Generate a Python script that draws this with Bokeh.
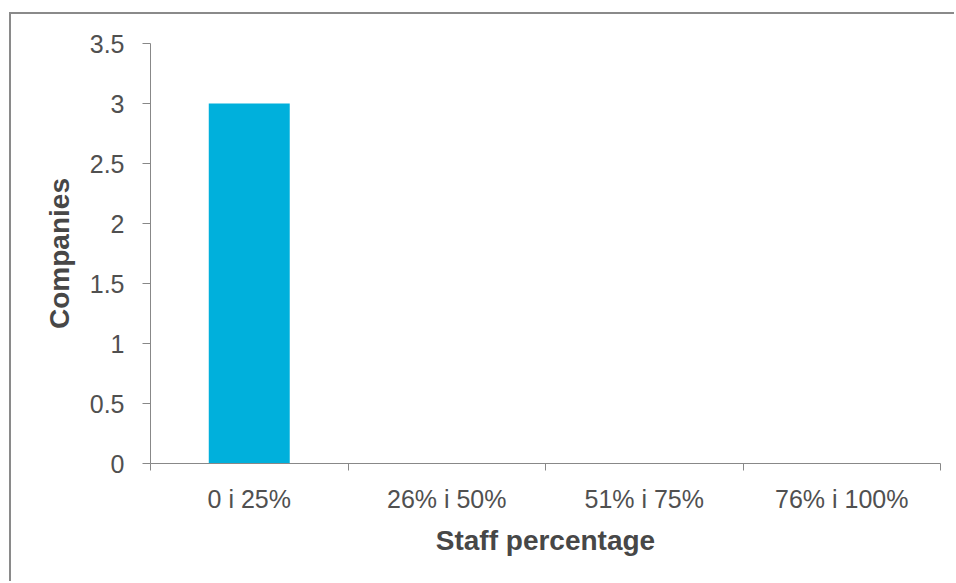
from bokeh.plotting import figure
from bokeh.models import FixedTicker, Range1d
from bokeh.embed import file_html
from bokeh.resources import INLINE

categories = ["0 i 25%", "26% i 50%", "51% i 75%", "76% i 100%"]
companies = [3, 0, 0, 0]
y_ticks = [0, 0.5, 1, 1.5, 2, 2.5, 3, 3.5]

centers = [i + 0.5 for i in range(len(categories))]
bounds = list(range(len(categories) + 1))

p = figure(width=945, height=569, output_backend="svg", toolbar_location=None,
           x_range=Range1d(0, len(categories)), y_range=Range1d(0, 3.5),
           min_border_left=139, min_border_right=16, min_border_top=29, min_border_bottom=120)
p.styles = {"margin-left": "9px", "margin-top": "12px",
            "border-left": "2px solid #8a8a8a", "border-top": "2px solid #8a8a8a"}

p.vbar(x=centers, top=companies, width=0.41, bottom=0, fill_color="#00b0dc", line_color=None)

p.outline_line_color = None
p.grid.visible = False
p.background_fill_color = "white"
p.border_fill_color = "white"

font = "Liberation Sans"
p.xaxis.ticker = FixedTicker(ticks=centers, minor_ticks=bounds)
p.xaxis.major_label_overrides = {c: lab for c, lab in zip(centers, categories)}
p.xaxis.major_tick_out = 0
p.xaxis.major_tick_in = 0
p.xaxis.minor_tick_out = 7
p.xaxis.minor_tick_in = 0
p.xaxis.minor_tick_line_color = "#888888"
p.xaxis.axis_label = "Staff percentage"

p.yaxis.ticker = FixedTicker(ticks=y_ticks)
p.yaxis.major_tick_out = 8
p.yaxis.major_tick_in = 0
p.yaxis.minor_tick_line_color = None
p.yaxis.axis_label = "Companies"
p.yaxis.major_label_overrides = {0: "0", 1: "1", 2: "2", 3: "3"}

for ax in (p.xaxis, p.yaxis):
    ax.axis_line_color = "#888888"
    ax.major_tick_line_color = "#888888"
    ax.major_label_text_font = font
    ax.major_label_text_font_size = "25px"
    ax.major_label_text_color = "#505050"
    ax.axis_label_text_font = font
    ax.axis_label_text_font_size = "28px"
    ax.axis_label_text_font_style = "bold"
    ax.axis_label_text_color = "#474747"

p.xaxis.major_label_standoff = 14
p.xaxis.axis_label_standoff = 9
p.yaxis.major_label_standoff = 18
p.yaxis.axis_label_standoff = 12

open("out.html", "w").write(file_html(p, INLINE))
